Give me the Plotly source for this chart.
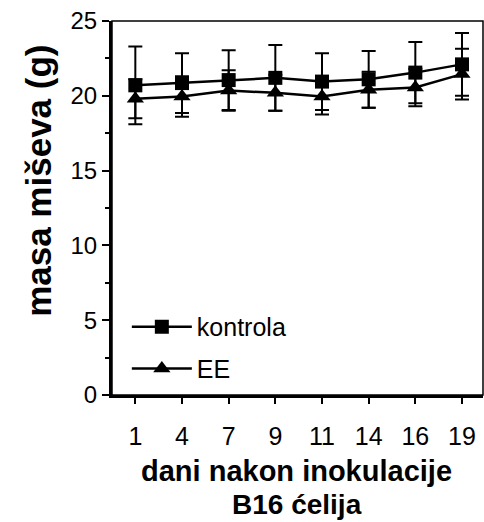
import plotly.graph_objects as go

days = ["1", "4", "7", "9", "11", "14", "16", "19"]
kontrola = [20.7, 20.85, 21.05, 21.2, 20.95, 21.1, 21.55, 22.1]
kontrola_err = [2.6, 2.0, 2.0, 2.2, 1.9, 1.9, 2.05, 2.1]
ee = [19.8, 19.95, 20.35, 20.2, 19.95, 20.4, 20.55, 21.45]
ee_err = [1.3, 1.35, 1.35, 1.2, 1.2, 1.2, 1.25, 1.7]
yticks = [0, 5, 10, 15, 20, 25]

xpos = list(range(len(days)))
FONT = "Liberation Sans, Arial, sans-serif"

fig = go.Figure()
fig.add_trace(go.Scatter(
    x=xpos, y=ee, name="EE", mode="lines+markers",
    line=dict(color="black", width=2.5),
    marker=dict(symbol="triangle-up", size=15, color="black"),
    error_y=dict(type="data", array=ee_err, color="black", thickness=2, width=7),
    legend="legend2",
))
fig.add_trace(go.Scatter(
    x=xpos, y=kontrola, name="kontrola", mode="lines+markers",
    line=dict(color="black", width=2.5),
    marker=dict(symbol="square", size=14, color="black"),
    error_y=dict(type="data", array=kontrola_err, color="black", thickness=2, width=7),
    legend="legend",
))

fig.add_shape(type="rect", xref="paper", yref="paper", x0=0, x1=1, y0=0, y1=1,
              line=dict(color="black", width=1.5), layer="below")

fig.add_annotation(text="<b>masa miševa (g)</b>", xref="paper", yref="paper",
                   x=-0.2, y=0.572, textangle=-90, showarrow=False,
                   font=dict(size=35), xanchor="center", yanchor="middle")
fig.add_annotation(text="<b>dani nakon inokulacije</b>", xref="paper", yref="paper",
                   x=0.498, y=-0.2032, showarrow=False,
                   font=dict(size=29), xanchor="center", yanchor="middle")
fig.add_annotation(text="<b>B16 ćelija</b>", xref="paper", yref="paper",
                   x=0.498, y=-0.2941, showarrow=False,
                   font=dict(size=28), xanchor="center", yanchor="middle")

fig.update_layout(
    width=484, height=522,
    margin=dict(l=112, r=1, t=21, b=127),
    plot_bgcolor="white", paper_bgcolor="white",
    font=dict(family=FONT, size=24, color="black"),
    showlegend=True,
    legend=dict(x=0.04, y=0.182, xanchor="left", yanchor="middle",
                bgcolor="rgba(0,0,0,0)", font=dict(size=25), itemwidth=60),
    legend2=dict(x=0.04, y=0.07, xanchor="left", yanchor="middle",
                 bgcolor="rgba(0,0,0,0)", font=dict(size=25), itemwidth=60),
    xaxis=dict(
        range=[-0.5, 7.45], tickvals=xpos, ticktext=days,
        showline=True, linecolor="black", linewidth=3,
        ticks="outside", ticklen=6, tickwidth=1.5, tickcolor="black",
        showgrid=False, zeroline=False,
        tickfont=dict(size=25), ticklabelstandoff=11,
    ),
    yaxis=dict(
        range=[0, 25], tickvals=yticks,
        showline=True, linecolor="black", linewidth=3,
        ticks="outside", ticklen=7, tickwidth=1.5, tickcolor="black",
        minor=dict(dtick=2.5, ticks="outside", ticklen=4, tickwidth=1.5, tickcolor="black", showgrid=False),
        showgrid=False, zeroline=False,
        tickfont=dict(size=24),
    ),
)

fig.write_html("out.html")
